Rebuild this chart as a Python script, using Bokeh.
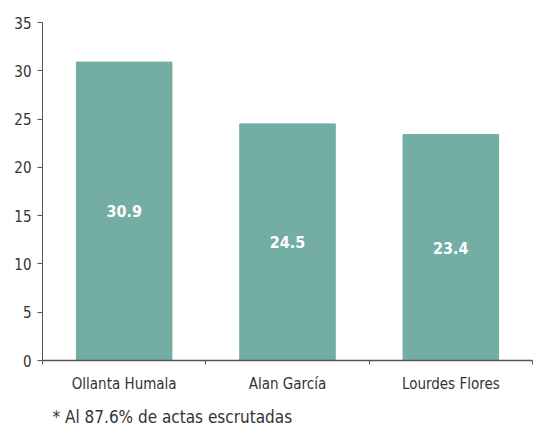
from bokeh.plotting import figure
from bokeh.models import ColumnDataSource, FixedTicker, Title, Range1d
from bokeh.core.properties import value
from bokeh.embed import file_html
from bokeh.resources import INLINE

candidates = ["Ollanta Humala", "Alan García", "Lourdes Flores"]
percent = [30.9, 24.5, 23.4]
y_ticks = [0, 5, 10, 15, 20, 25, 30, 35]
footnote = "* Al 87.6% de actas escrutadas"

FONT = "DejaVu Sans Condensed"
BAR = "#74ada3"

pos = [i + 0.5 for i in range(len(candidates))]
src = ColumnDataSource(dict(
    x=pos, top=percent,
    mid=[v / 2 for v in percent],
    lab=[f"{v:.1f}" for v in percent],
))

p = figure(width=533, height=439, output_backend="svg", toolbar_location=None,
           x_range=Range1d(0, len(candidates)), y_range=Range1d(0, 35),
           min_border_left=42, min_border_right=1, min_border_top=22,
           min_border_bottom=0)
p.outline_line_color = None
p.grid.visible = False
p.background_fill_color = "white"
p.border_fill_color = "white"

p.vbar(x="x", top="top", width=0.585, bottom=0, source=src,
       fill_color=BAR, line_color=BAR)
p.text(x="x", y="mid", text="lab", source=src, text_color="white",
       text_font=value(FONT), text_font_style="bold", text_font_size="16px",
       text_align="center", text_baseline="middle")

# y axis
p.yaxis.ticker = FixedTicker(ticks=y_ticks, minor_ticks=[])
p.yaxis.axis_line_color = "#555555"
p.yaxis.major_tick_line_color = "#555555"
p.yaxis.major_tick_out = 5
p.yaxis.major_tick_in = 0
p.yaxis.minor_tick_line_color = None
p.yaxis.major_label_text_font = FONT
p.yaxis.major_label_text_font_size = "15px"
p.yaxis.major_label_text_color = "#333333"
p.yaxis.major_label_standoff = 6

# x axis: labels at centers, ticks at boundaries
p.xaxis.ticker = FixedTicker(ticks=pos, minor_ticks=list(range(len(candidates) + 1)))
p.xaxis.major_label_overrides = {x: c for x, c in zip(pos, candidates)}
p.xaxis.major_tick_line_color = None
p.xaxis.minor_tick_out = 4
p.xaxis.minor_tick_in = 0
p.xaxis.minor_tick_line_color = "#555555"
p.xaxis.axis_line_color = "#555555"
p.xaxis.axis_line_width = 1.5
p.xaxis.major_label_text_font = FONT
p.xaxis.major_label_text_font_size = "15px"
p.xaxis.major_label_text_color = "#333333"
p.xaxis.major_label_standoff = 8

p.add_layout(Title(text=footnote, align="left", offset=10, standoff=22,
                   vertical_align="top",
                   text_font=FONT, text_font_size="17px", text_font_style="normal",
                   text_color="#333333"), "below")

open("out.html", "w").write(file_html(p, INLINE))
